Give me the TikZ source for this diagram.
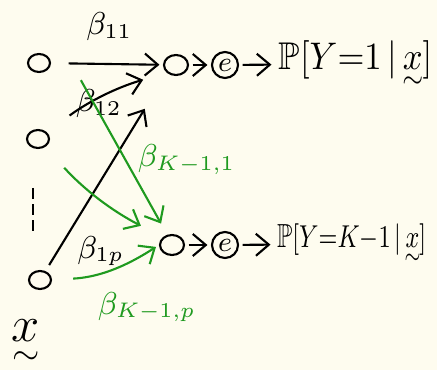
\documentclass[tikz,border=0pt]{standalone}
\usepackage{amsmath,amssymb}
\usepackage{tikz}
\usetikzlibrary{arrows.meta,shapes.geometric,positioning}
\definecolor{PaperCream}{HTML}{FEFCEF}
\definecolor{InkGreen}{HTML}{1F9A1F}
\newcommand{\tildex}{\mbox{\ooalign{$x$\cr\hidewidth\raisebox{-1.1ex}{$\scriptstyle\sim$}\hidewidth\cr}}}

\begin{document}
\begin{tikzpicture}[every node/.style={font=\fontsize{9}{11}\selectfont},
  unit/.style={draw, semithick, ellipse, minimum width=0.22cm, minimum height=0.18cm, inner sep=0pt},
  expo/.style={draw, semithick, circle, minimum size=0.26cm, inner sep=0pt, font=\fontsize{8}{9}\selectfont},
  prob/.style={anchor=west, inner sep=1pt, xscale=0.9, font=\fontsize{11}{13}\selectfont},
  arr/.style={-{Straight Barb[length=1.3mm, width=2.2mm]}, semithick, shorten <=1pt, shorten >=1pt}]
  \fill[PaperCream] (0,0) rectangle (4.37,3.70);
  \useasboundingbox (0,0) rectangle (4.37,3.70);
  % inputs
  \node[unit] (x1) at (0.39,3.07) {};
  \node[unit] (x2) at (0.38,2.31) {};
  \draw[semithick, dash pattern=on 3pt off 1.6pt] (0.33,1.82) -- (0.33,1.38);
  \node[unit] (xp) at (0.40,0.90) {};
  \node[font=\fontsize{14}{16}\selectfont] (xlab) at (0.26,0.28) {$\tildex$};
  % outputs
  \node[unit, minimum width=0.24cm, minimum height=0.2cm] (h1) at (1.76,3.05) {};
  \node[expo] (e1) at (2.25,3.05) {$e$};
  \node[prob] (p1) at (2.75,3.06) {$\mathbb{P}[Y{=}1\,|\,\tildex]$};
  \node[unit, minimum width=0.24cm, minimum height=0.2cm] (h2) at (1.72,1.25) {};
  \node[expo] (e2) at (2.25,1.25) {$e$};
  \node[prob, xscale=0.83, font=\fontsize{9.5}{11}\selectfont] (p2) at (2.74,1.26) {$\mathbb{P}[Y{=}K{-}1\,|\,\tildex]$};
  \draw[arr] (h1) -- (e1);
  \draw[arr] (e1) -- (p1);
  \draw[arr] (h2) -- (e2);
  \draw[arr] (e2) -- (p2);
  % weights to the first unit
  \draw[arr, shorten <=5pt] (x1) -- node[above=3pt, pos=0.52] {$\beta_{11}$} (h1);
  \draw[arr, shorten <=8pt, shorten >=7pt] (x2) to[bend left=10] node[above right=-3pt and -2pt, pos=0.3, inner sep=0pt] {$\beta_{12}$} (h1.south west);
  \draw[arr, shorten <=2pt, shorten >=12pt] (xp) -- node[right=2pt, pos=0.1] {$\beta_{1p}$} (h1.south west);
  % weights to the last unit
  \draw[arr, InkGreen] ([xshift=9pt, yshift=-2pt]x1.south east) -- node[right=0pt, pos=0.55] {$\beta_{K{-}1,1}$} ([yshift=3pt]h2.north west);
  \draw[arr, InkGreen, shorten <=8pt, shorten >=7pt] (x2) to[bend right=10] (h2.north west);
  \draw[arr, InkGreen, shorten <=6pt] (xp) to[bend right=15] node[pos=0.55, below right=3pt and -8pt] {$\beta_{K{-}1,p}$} (h2.west);
\end{tikzpicture}
\end{document}
